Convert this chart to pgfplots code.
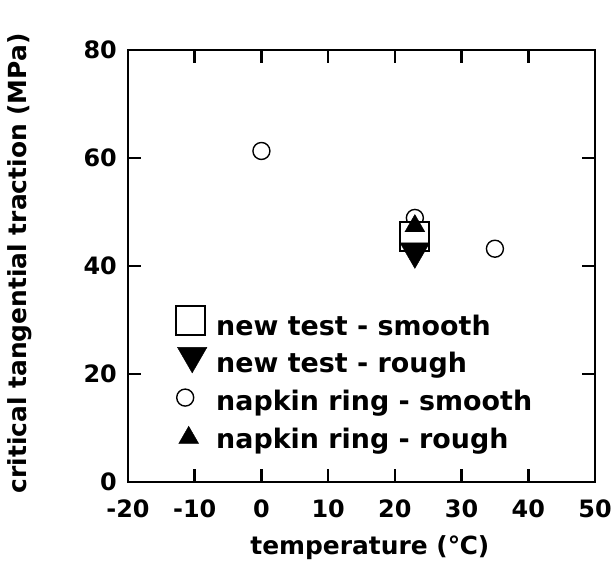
\documentclass[border=0pt]{standalone}
\usepackage{fontspec}
\setmainfont{DejaVu Sans}
\usepackage{pgfplots}
\pgfplotsset{compat=1.18}
% legend image: fixed box, mark placed at (#1,#2) without widening the row
\pgfplotsset{limg/.style 2 args={legend image code/.code={
    \pgfpathrectangle{\pgfpoint{0bp}{-6bp}}{\pgfpoint{29bp}{12bp}}\pgfusepath{}
    \begin{pgfinterruptboundingbox}
    \draw plot coordinates {(#1,#2)};
    \end{pgfinterruptboundingbox}}}}

\begin{document}
\begin{tikzpicture}
\useasboundingbox (0,0) rectangle (614bp,563bp);
\begin{axis}[
    at={(128bp,81bp)}, anchor=south west,
    width=467bp, height=432bp, scale only axis,
    xmin=-20, xmax=50, ymin=0, ymax=80,
    xtick={-20,-10,0,10,20,30,40,50},
    xticklabels={-20,-10,0,10,20,30,40,50},
    ytick={0,20,40,60,80},
    yticklabels={0,20,40,60,80},
    tick align=inside,
    major tick length=13bp,
    every tick/.style={line width=2.6bp, black},
    axis line style={line width=2.4bp},
    tick label style={font=\fontsize{24}{28}\selectfont\bfseries},
    xticklabel style={anchor=base, inner sep=0pt, yshift=-35bp},
    yticklabel style={anchor=east, inner sep=0pt, xshift=-11bp},
    xlabel={temperature (℃)},
    ylabel={critical tangential traction (MPa)},
    label style={font=\fontsize{25}{30}\selectfont\bfseries},
    xlabel style={at={(axis description cs:0.518,-0.1667)}, anchor=base, inner sep=0pt},
    ylabel style={at={(axis description cs:-0.2313,0.506)}, anchor=center, inner sep=0pt},
    clip=false,
    legend cell align=left,
    legend style={at={(axis description cs:0.1028,0.3866)}, anchor=north west,
        draw=none, fill=none, inner sep=0pt, row sep=11.7bp, column sep=11bp,
        font=\fontsize{27}{30}\selectfont\bfseries,
        nodes={inner sep=0pt, text height=20bp, text depth=6bp}},
]
% napkin ring smooth point at 23 C lies under the square
\addplot[forget plot, only marks, mark=o, mark size=8.5bp, mark options={line width=1.4bp, black}]
    coordinates {(23,48.9)};
\addplot[only marks, mark=square*, mark size=14.5bp, limg={14.5bp}{7.5bp},
    mark options={line width=1.8bp, draw=black, fill=white}]
    coordinates {(23,45.4)};
\addlegendentry{new test - smooth}
\addplot[only marks, mark=triangle*, mark size=17bp, limg={16bp}{10bp},
    mark options={rotate=180, fill=black, draw=black}]
    coordinates {(23,42.7)};
\addlegendentry{new test - rough}
\addplot[only marks, mark=o, mark size=8.5bp, limg={9bp}{6bp},
    mark options={line width=1.4bp, black}]
    coordinates {(0,61.3) (35,43.2)};
\addlegendentry{napkin ring - smooth}
\addplot[only marks, mark=triangle*, mark size=11.5bp, limg={12.5bp}{3.5bp},
    mark options={fill=black, draw=black}]
    coordinates {(23,47.4)};
\addlegendentry{napkin ring - rough}
\end{axis}
\end{tikzpicture}
\end{document}
